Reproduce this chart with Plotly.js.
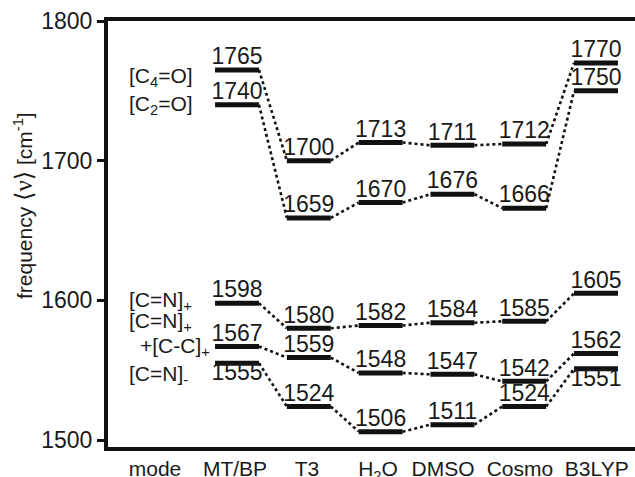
<!DOCTYPE html>
<html>
<head>
<meta charset="utf-8">
<script src="https://cdn.plot.ly/plotly-3.0.1.min.js"></script>
<style>html,body{margin:0;padding:0;background:#fff;}#chart{width:635px;height:477px;}</style>
</head>
<body>
<div id="chart"></div>
<script>
// ---- data ----
const methods = ['MT/BP', 'T3', 'H<sub>2</sub>O', 'DMSO', 'Cosmo', 'B3LYP'];
const modeLabels = ['[C<sub>4</sub>=O]', '[C<sub>2</sub>=O]', '[C=N]<sub>+</sub>', '[C=N]<sub>+</sub>', '+[C-C]<sub>+</sub>', '[C=N]<sub>-</sub>'];
const c4o    = [1765, 1700, 1713, 1711, 1712, 1770];
const c2o    = [1740, 1659, 1670, 1676, 1666, 1750];
const cnPlus = [1598, 1580, 1582, 1584, 1585, 1605];
const cnCC   = [1567, 1559, 1548, 1547, 1542, 1562];
const cnMinus= [1555, 1524, 1506, 1511, 1524, 1551];
const series = [c4o, c2o, cnPlus, cnCC, cnMinus];
const yTicks = [1500, 1600, 1700, 1800];

// ---- drawing ----
const cols = methods.map((m, i) => i + 1);
const half = 0.306;
const traces = [];
const font = 'Liberation Sans, Arial, sans-serif';
const ink = '#1a1a1a';

series.forEach((vals) => {
  const bx = [], by = [];
  vals.forEach((v, i) => { bx.push(cols[i] - half, cols[i] + half, null); by.push(v, v, null); });
  traces.push({x: bx, y: by, mode: 'lines', line: {color: '#111', width: 5}, hoverinfo: 'skip', showlegend: false});
  const cx = [], cy = [];
  for (let i = 0; i < vals.length - 1; i++) {
    cx.push(cols[i] + half, cols[i + 1] - half, null);
    cy.push(vals[i], vals[i + 1], null);
  }
  traces.push({x: cx, y: cy, mode: 'lines', line: {color: '#111', width: 2.6, dash: 'dot'}, hoverinfo: 'skip', showlegend: false});
  const pos = vals.map((v, i) => (vals === cnMinus && (i === 0 || i === 5)) ? 'bottom center' : 'top center');
  traces.push({x: cols, y: vals, mode: 'text', text: vals.map(String), textposition: pos,
    textfont: {family: font, size: 23, color: ink}, hoverinfo: 'skip', showlegend: false});
});

const modeY = [1760, 1740, 1599.5, 1584.5, 1566.5, 1546.5];
const modeX = [-0.53, -0.53, -0.53, -0.53, -0.38, -0.53];
const annotations = modeLabels.map((t, i) => ({
  x: modeX[i], y: modeY[i], xref: 'x', yref: 'y', text: t, showarrow: false,
  xanchor: 'left', yanchor: 'middle', font: {family: font, size: 21, color: ink}
}));
annotations.push({
  xref: 'paper', yref: 'paper', x: (24 - 108) / 527, y: (447 - 206) / 426,
  xanchor: 'center', yanchor: 'middle', textangle: -90, showarrow: false,
  text: 'frequency <span style="font-family:DejaVu Sans;font-size:24px">\u27E8</span><span style="font-family:Liberation Serif;font-size:25px">\u03BD</span><span style="font-family:DejaVu Sans;font-size:24px">\u27E9</span> [cm<sup>-1</sup>]',
  font: {family: font, size: 21, color: ink}
});

const layout = {
  width: 635, height: 477,
  margin: {l: 108, r: 0, t: 21, b: 30},
  paper_bgcolor: '#fff', plot_bgcolor: '#fff',
  showlegend: false,
  xaxis: {
    range: [-0.797, 6.543], showgrid: false, zeroline: false,
    showline: true, mirror: true, linewidth: 4, linecolor: '#111',
    tickvals: [-0.142, 0.972, 1.975, 2.964, 3.869, 4.94, 6.01], ticktext: ['mode'].concat(methods),
    ticks: '', tickfont: {family: font, size: 21, color: ink}
  },
  yaxis: {
    range: [1495, 1800], showgrid: false, zeroline: false,
    showline: true, linewidth: 4, linecolor: '#111',
    tickvals: yTicks, ticks: 'outside', ticklen: 7, tickwidth: 3, tickcolor: '#111',
    tickfont: {family: font, size: 23, color: ink}
  },
  annotations: annotations
};

Plotly.newPlot('chart', traces, layout, {displayModeBar: false, staticPlot: true});
</script>
</body>
</html>
